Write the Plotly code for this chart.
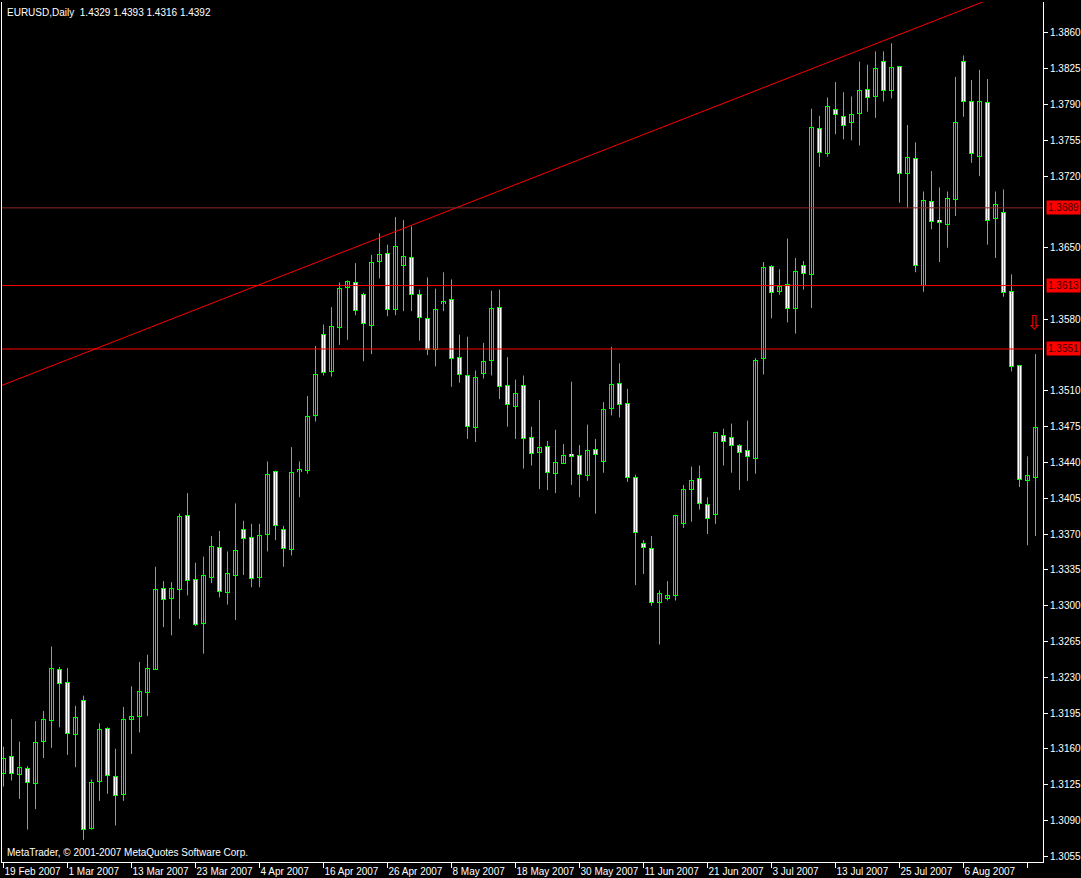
import plotly.graph_objects as go
import pandas as pd

symbol_title = "EURUSD,Daily"
header_quote = ["1.4329", "1.4393", "1.4316", "1.4392"]
copyright_text = "MetaTrader, © 2001-2007 MetaQuotes Software Corp."

# daily bars, 19 Feb 2007 .. 17 Aug 2007 (business days)
dates = pd.bdate_range("2007-02-19", periods=130)

opens = [1.3136, 1.3152, 1.3135, 1.3141, 1.3126, 1.3167, 1.3188, 1.3238, 1.3225, 1.3174,
         1.3207, 1.3082, 1.3128, 1.3180, 1.3133, 1.3115, 1.3189, 1.3192, 1.3215, 1.3238,
         1.3317, 1.3307, 1.3316, 1.3388, 1.3326, 1.3283, 1.3328, 1.3357, 1.3313, 1.3329,
         1.3374, 1.3367, 1.3328, 1.3370, 1.3431, 1.3374, 1.3355, 1.3431, 1.3432, 1.3486,
         1.3565, 1.3529, 1.3572, 1.3611, 1.3616, 1.3604, 1.3574, 1.3637, 1.3644, 1.3590,
         1.3633, 1.3640, 1.3604, 1.3581, 1.3550, 1.3595, 1.3599, 1.3543, 1.3525, 1.3474,
         1.3527, 1.3540, 1.3592, 1.3515, 1.3495, 1.3515, 1.3464, 1.3450, 1.3456, 1.3429,
         1.3439, 1.3448, 1.3447, 1.3427, 1.3453, 1.3441, 1.3493, 1.3517, 1.3498, 1.3425,
         1.3361, 1.3356, 1.3303, 1.3307, 1.3310, 1.3380, 1.3414, 1.3424, 1.3399, 1.3389,
         1.3466, 1.3464, 1.3457, 1.3452, 1.3444, 1.3542, 1.3632, 1.3607, 1.3614, 1.3591,
         1.3633, 1.3624, 1.3767, 1.3742, 1.3785, 1.3778, 1.3772, 1.3781, 1.3805, 1.3798,
         1.3832, 1.3804, 1.3827, 1.3723, 1.3737, 1.3613, 1.3695, 1.3677, 1.3673, 1.3697,
         1.3832, 1.3793, 1.3739, 1.3792, 1.3679, 1.3684, 1.3607, 1.3535, 1.3422, 1.3425]
highs = [1.3162, 1.3189, 1.3167, 1.3143, 1.3187, 1.3197, 1.3260, 1.3240, 1.3239, 1.3202,
         1.3212, 1.3130, 1.3185, 1.3181, 1.3160, 1.3201, 1.3221, 1.3245, 1.3252, 1.3338,
         1.3324, 1.3323, 1.3390, 1.3410, 1.3342, 1.3348, 1.3368, 1.3373, 1.3353, 1.3400,
         1.3383, 1.3380, 1.3380, 1.3441, 1.3432, 1.3378, 1.3455, 1.3441, 1.3505, 1.3554,
         1.3575, 1.3592, 1.3616, 1.3618, 1.3635, 1.3606, 1.3643, 1.3664, 1.3653, 1.3680,
         1.3677, 1.3671, 1.3609, 1.3621, 1.3610, 1.3626, 1.3619, 1.3565, 1.3563, 1.3530,
         1.3557, 1.3608, 1.3609, 1.3543, 1.3521, 1.3525, 1.3475, 1.3501, 1.3461, 1.3472,
         1.3458, 1.3519, 1.3457, 1.3477, 1.3463, 1.3499, 1.3553, 1.3537, 1.3512, 1.3428,
         1.3364, 1.3368, 1.3315, 1.3324, 1.3389, 1.3418, 1.3436, 1.3437, 1.3406, 1.3470,
         1.3473, 1.3478, 1.3458, 1.3481, 1.3542, 1.3636, 1.3633, 1.3629, 1.3659, 1.3640,
         1.3637, 1.3786, 1.3779, 1.3797, 1.3812, 1.3802, 1.3798, 1.3832, 1.3829, 1.3842,
         1.3842, 1.3850, 1.3827, 1.3770, 1.3753, 1.3705, 1.3725, 1.3709, 1.3705, 1.3817,
         1.3838, 1.3814, 1.3824, 1.3815, 1.3705, 1.3707, 1.3624, 1.3535, 1.3446, 1.3546]
lows = [1.3123, 1.3129, 1.3111, 1.3081, 1.3101, 1.3151, 1.3161, 1.3181, 1.3154, 1.3142,
        1.3071, 1.3081, 1.3109, 1.3116, 1.3085, 1.3109, 1.3155, 1.3176, 1.3192, 1.3237,
        1.3279, 1.3271, 1.3287, 1.3310, 1.3280, 1.3253, 1.3322, 1.3308, 1.3301, 1.3286,
        1.3330, 1.3318, 1.3318, 1.3353, 1.3364, 1.3338, 1.3349, 1.3406, 1.3429, 1.3480,
        1.3525, 1.3524, 1.3555, 1.3560, 1.3584, 1.3539, 1.3546, 1.3620, 1.3583, 1.3584,
        1.3588, 1.3588, 1.3559, 1.3545, 1.3534, 1.3588, 1.3514, 1.3518, 1.3463, 1.3460,
        1.3522, 1.3525, 1.3502, 1.3475, 1.3463, 1.3434, 1.3437, 1.3414, 1.3413, 1.3410,
        1.3439, 1.3418, 1.3406, 1.3422, 1.3390, 1.3430, 1.3486, 1.3484, 1.3421, 1.3320,
        1.3331, 1.3300, 1.3262, 1.3305, 1.3305, 1.3376, 1.3382, 1.3394, 1.3370, 1.3380,
        1.3437, 1.3430, 1.3413, 1.3422, 1.3429, 1.3526, 1.3581, 1.3604, 1.3577, 1.3566,
        1.3609, 1.3591, 1.3729, 1.3739, 1.3761, 1.3756, 1.3755, 1.3750, 1.3783, 1.3777,
        1.3793, 1.3796, 1.3694, 1.3689, 1.3626, 1.3607, 1.3668, 1.3636, 1.3650, 1.3681,
        1.3778, 1.3733, 1.3720, 1.3653, 1.3640, 1.3602, 1.3529, 1.3416, 1.3359, 1.3368]
closes = [1.3151, 1.3136, 1.3142, 1.3127, 1.3166, 1.3189, 1.3239, 1.3224, 1.3175, 1.3191,
          1.3081, 1.3127, 1.3179, 1.3134, 1.3114, 1.3189, 1.3192, 1.3216, 1.3239, 1.3316,
          1.3306, 1.3317, 1.3387, 1.3325, 1.3282, 1.3329, 1.3358, 1.3314, 1.3331, 1.3354,
          1.3366, 1.3327, 1.3369, 1.3428, 1.3378, 1.3356, 1.3430, 1.3433, 1.3485, 1.3526,
          1.3528, 1.3573, 1.3610, 1.3617, 1.3589, 1.3576, 1.3636, 1.3643, 1.3590, 1.3651,
          1.3641, 1.3604, 1.3582, 1.3550, 1.3590, 1.3597, 1.3542, 1.3526, 1.3475, 1.3523,
          1.3539, 1.3591, 1.3514, 1.3497, 1.3507, 1.3463, 1.3449, 1.3455, 1.3430, 1.3440,
          1.3447, 1.3446, 1.3428, 1.3452, 1.3448, 1.3492, 1.3516, 1.3497, 1.3425, 1.3372,
          1.3357, 1.3303, 1.3312, 1.3310, 1.3388, 1.3414, 1.3422, 1.3400, 1.3385, 1.3469,
          1.3461, 1.3457, 1.3450, 1.3446, 1.3540, 1.3631, 1.3606, 1.3612, 1.3591, 1.3627,
          1.3625, 1.3768, 1.3743, 1.3788, 1.3780, 1.3770, 1.3780, 1.3804, 1.3797, 1.3825,
          1.3804, 1.3826, 1.3723, 1.3738, 1.3633, 1.3696, 1.3676, 1.3675, 1.3698, 1.3772,
          1.3793, 1.3742, 1.3793, 1.3677, 1.3692, 1.3606, 1.3534, 1.3423, 1.3427, 1.3474]

# horizontal lines and trend line (price objects)
hline_levels = [1.3689, 1.3613, 1.3551]
hline_colors = ["#8c2a2a", "#ff0000", "#ff0000"]
trend_bar = [0, 120]
trend_price = [1.3516, 1.3883]
arrow_bar = 128.75
arrow_price = 1.3577

# axis ticks (levels hidden under the line labels are left out)
y_ticks = [round(1.3055 + 0.0035 * k, 4) for k in range(24)]
y_ticks = [v for v in y_ticks if min(abs(v - h) for h in hline_levels) > 0.0009]
x_tick_idx = list(range(0, 130, 8))
x_tick_text = [f"{dates[i].day} {dates[i].strftime('%b %Y')}" for i in x_tick_idx]

n = len(opens)
idx = list(range(n))

GREEN = "#00ff00"
FONT = "Liberation Sans"
Y_RANGE = [1.30493, 1.38903]
X_RANGE = [-0.1875, 129.9375]          # 8 px per bar, bar centres on pixel centres
PLOT_H_PX = 860
PX = (Y_RANGE[1] - Y_RANGE[0]) / PLOT_H_PX   # price per screen pixel (outline thickness)

fig = go.Figure()

# wicks
wx, wy = [], []
for i in idx:
    wx += [i, i, None]
    wy += [lows[i], highs[i], None]
fig.add_trace(go.Scatter(x=wx, y=wy, mode="lines", line=dict(color=GREEN, width=1),
                         hoverinfo="skip", showlegend=False))

# bodies: green outer box, then inner fill (white = down bar, black = up bar)
body_lo = [min(o, c) for o, c in zip(opens, closes)]
body_hi = [max(o, c) for o, c in zip(opens, closes)]
outer_base = [lo - 0.5 * PX for lo in body_lo]
outer_h = [hi - lo + PX for lo, hi in zip(body_lo, body_hi)]
fig.add_trace(go.Bar(x=idx, y=outer_h, base=outer_base, width=0.625,
                     marker=dict(color=GREEN, line=dict(width=0)),
                     hoverinfo="skip", showlegend=False))
in_x, in_base, in_h, in_col = [], [], [], []
for i in idx:
    h = body_hi[i] - body_lo[i] - PX
    if h > 0.3 * PX:
        in_x.append(i)
        in_base.append(body_lo[i] + 0.5 * PX)
        in_h.append(h)
        in_col.append("#ffffff" if closes[i] < opens[i] else "#000000")
fig.add_trace(go.Bar(x=in_x, y=in_h, base=in_base, width=0.375,
                     marker=dict(color=in_col, line=dict(width=0)),
                     hoverinfo="skip", showlegend=False))

# trend line (ray)
slope = (trend_price[1] - trend_price[0]) / (trend_bar[1] - trend_bar[0])
ray_x = [-2, 145]
ray_y = [trend_price[0] + slope * (x - trend_bar[0]) for x in ray_x]
fig.add_trace(go.Scatter(x=ray_x, y=ray_y, mode="lines", line=dict(color="#ff0000", width=1),
                         hoverinfo="skip", showlegend=False))

shapes = []
annotations = []
for lvl, col in zip(hline_levels, hline_colors):
    shapes.append(dict(type="line", xref="paper", x0=0, x1=1, yref="y", y0=lvl, y1=lvl,
                       line=dict(color=col, width=1)))
    annotations.append(dict(xref="paper", x=1, xanchor="left", xshift=3,
                            yref="y", y=lvl, yanchor="middle", text=f"{lvl:.4f}",
                            showarrow=False, bgcolor="#ff0000", borderpad=1,
                            font=dict(family=FONT, size=10, color="#3a0000")))

annotations.append(dict(xref="paper", x=0, xanchor="left", xshift=3, yref="paper", y=1,
                        yanchor="top", yshift=-3,
                        text=symbol_title + "\u00a0\u00a0" + " ".join(header_quote),
                        showarrow=False, font=dict(family=FONT, size=10, color="#ffffff")))
annotations.append(dict(xref="paper", x=0, xanchor="left", xshift=3, yref="paper", y=0,
                        yanchor="bottom", yshift=2, text=copyright_text, showarrow=False,
                        font=dict(family=FONT, size=10, color="#ffffff")))
annotations.append(dict(xref="x", x=arrow_bar, yref="y", y=arrow_price, text="⇩",
                        showarrow=False, font=dict(family="DejaVu Sans", size=19, color="#ff0000")))

fig.update_layout(
    width=1081, height=878,
    margin=dict(l=2, r=38, t=2, b=16, autoexpand=False),
    paper_bgcolor="#000000", plot_bgcolor="#000000",
    showlegend=False, barmode="overlay", bargap=0,
    shapes=shapes, annotations=annotations,
    xaxis=dict(range=X_RANGE, showgrid=False, zeroline=False,
               showline=True, linecolor="#ffffff", linewidth=1,
               ticks="outside", ticklen=5, tickcolor="#ffffff", tickwidth=1,
               tickvals=x_tick_idx, ticktext=x_tick_text, tickangle=0,
               automargin=False,
               ticklabelposition="outside right",
               tickfont=dict(family=FONT, size=10, color="#ffffff")),
    yaxis=dict(side="right", range=Y_RANGE, showgrid=False, zeroline=False,
               showline=True, mirror=True, linecolor="#ffffff", linewidth=1,
               ticks="outside", ticklen=4, tickcolor="#ffffff", tickwidth=1,
               tickvals=y_ticks, tickformat=".4f", automargin=False,
               tickfont=dict(family=FONT, size=10, color="#ffffff")),
)

fig.write_html("out.html", config={"displayModeBar": False},
               post_script="document.body.style.margin='0';document.body.style.background='#000';"
                           "window.dispatchEvent(new Event('resize'));")
